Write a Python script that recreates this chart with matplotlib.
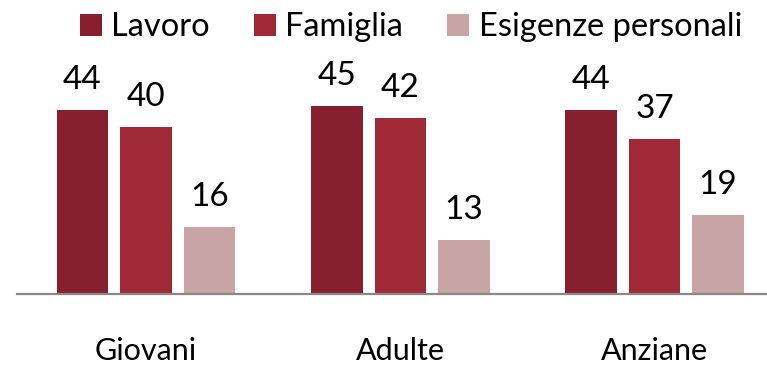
import matplotlib.pyplot as plt
import numpy as np

plt.rcParams['font.family'] = ['Lato', 'DejaVu Sans']

groups = ["Giovani", "Adulte", "Anziane"]
series = ["Lavoro", "Famiglia", "Esigenze personali"]
lavoro = [44, 45, 44]
famiglia = [40, 42, 37]
esigenze = [16, 13, 19]
colors = ["#871F2E", "#A02938", "#C9A4A7"]

W, H = 767, 365
fig = plt.figure(figsize=(W / 100, H / 100), dpi=100)

# pixel layout of the plot area
base_px = 294
top_px = 60
left_px = 17
unit_y = 4.18      # px per percentage point
unit_x = 254.25    # px between group centres
c0_px = 146        # centre of first group

ax = fig.add_axes([left_px / W, (H - base_px) / H, (W - left_px) / W, (base_px - top_px) / H])
ax.set_ylim(0, (base_px - top_px) / unit_y)
ax.set_xlim((left_px - c0_px) / unit_x, (W - c0_px) / unit_x)

x = np.arange(len(groups))
width = 51.5 / unit_x
step = 63.5 / unit_x
for i, (vals, name) in enumerate(zip([lavoro, famiglia, esigenze], series)):
    pos = x + (i - 1) * step
    ax.bar(pos, vals, width, color=colors[i], label=name)
    for xp, v in zip(pos, vals):
        ax.text(xp, v + 21 / unit_y, str(v), ha="center", va="baseline", fontsize=24)

# category labels below the baseline
for xp, g in zip(x, groups):
    ax.text(xp, -66 / unit_y, g, ha="center", va="baseline", fontsize=22, clip_on=False)

for s in ["top", "right", "left"]:
    ax.spines[s].set_visible(False)
ax.spines["bottom"].set_color("#888888")
ax.spines["bottom"].set_linewidth(1.6)
ax.set_yticks([])
ax.set_xticks([])

fig.legend(loc="center", bbox_to_anchor=(0.536, 1 - 27 / H), ncol=3, frameon=False,
           fontsize=23.5, handlelength=0.66, handleheight=0.66, handletextpad=0.3,
           columnspacing=1.35, borderpad=0)

fig.savefig("out.png", dpi=100)
